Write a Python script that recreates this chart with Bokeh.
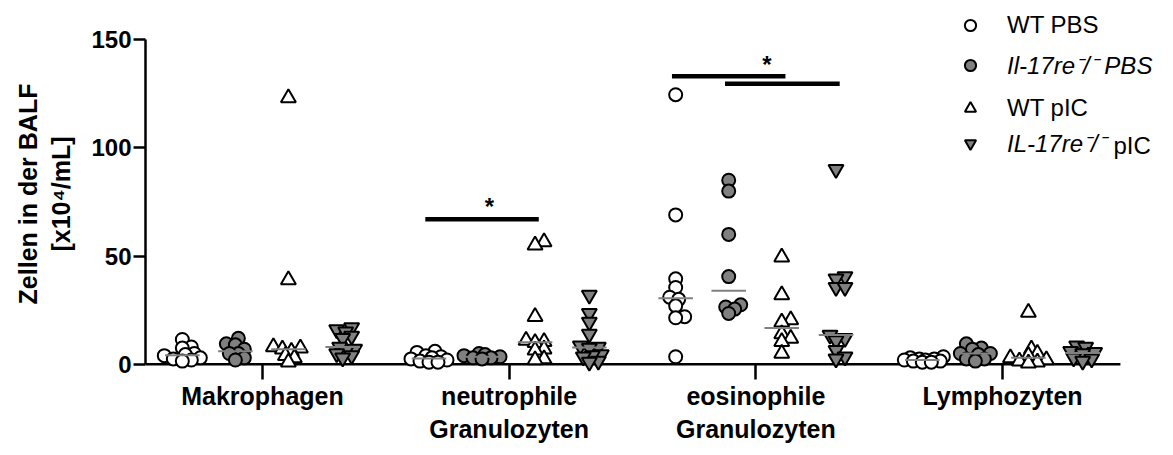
import numpy as np
from bokeh.plotting import figure
from bokeh.models import Range1d, FixedTicker, Legend, LegendItem, Label
from bokeh.core.properties import value
from bokeh.embed import file_html
from bokeh.resources import INLINE

# ---------------- data ----------------
groups = ["Makrophagen", "neutrophile\nGranulozyten", "eosinophile\nGranulozyten", "Lymphozyten"]
series_names = ["WT PBS", "Il-17re\u207b/\u207b PBS", "WT pIC", "IL-17re\u207b/\u207b"]

wt_pbs = [
    [11.5, 8, 7.5, 5, 4.5, 4, 3, 2.5, 2, 1.5],
    [6, 5.5, 4, 3.5, 3, 2.5, 2, 1.5, 1, 1],
    [124.5, 69, 39.5, 35.5, 31, 30, 27, 22, 21.5, 3.5],
    [3.5, 3, 2.5, 2.5, 2, 2, 1.5, 1.5, 1, 1],
]
il_pbs = [
    [12, 9.5, 9, 7, 5, 5, 3, 2],
    [5, 4.5, 4, 3.5, 3, 3, 2.5],
    [85, 80, 60, 40.5, 27.5, 26.5, 25.5, 23.5],
    [9.5, 7.5, 7, 5, 5, 4.5, 2.5, 2.5, 1.5],
]
wt_pic = [
    [123, 39, 8, 7.5, 7, 6, 4, 3, 1],
    [56.5, 55, 22, 11, 10.5, 10, 7, 6.5, 2.5, 2],
    [49.5, 32, 20.5, 19.5, 14, 12, 10.5, 5],
    [24, 7, 5, 4, 3, 2, 1.5, 1, 0.5],
]
il_pic = [
    [17, 16, 15, 13, 12, 8, 7, 6, 5, 4, 3],
    [32, 23.5, 19.5, 14, 8.5, 8, 7.5, 4.5, 4, 3.5, 1.5, 1],
    [90, 40.5, 39.5, 35.5, 35.5, 13.5, 12, 11, 6.5, 3.5, 2.5],
    [8.5, 8, 6, 5.5, 5, 3, 2.5, 1.5],
]
all_series = [wt_pbs, il_pbs, wt_pic, il_pic]

# significance bars: group, from-series, to-series, height
sig_group = [1, 2, 2]
sig_from = [0, 0, 1]
sig_to = [2, 2, 3]
sig_y = [67, 133, 129.5]
# stars
star_group = [1, 2]
star_dx = [-0.08, 0.045]
star_y = [73, 138.5]

y_ticks = [0, 50, 100, 150]

# ---------------- layout / style ----------------
FONT = "Liberation Sans"
X0 = -0.4743
FW, FH = 1025, 371
PX_X = 246.67
X1 = X0 + FW / PX_X
X_AXIS_END = 3.478
Y0, Y1 = -7.0, 164.3
PX_Y = FH / (Y1 - Y0)
series_offset = [-0.325, -0.11, 0.105, 0.325]
markers = ["circle", "circle", "triangle", "inverted_triangle"]
fills = ["white", "#808080", "white", "#808080"]
sizes = [13, 13, 15, 15]


def swarm(vals, dmin=7.0, step=3.0, max_off=21.0):
    vals = list(vals)
    order = np.argsort(vals, kind="stable")
    placed = []
    offs = [0.0] * len(vals)
    for i in order:
        yp = vals[i] * PX_Y
        cands = [0.0]
        k = 1
        while k * step <= max_off:
            cands += [k * step, -k * step]
            k += 1
        best, best_d = None, -1
        chosen = None
        for c in cands:
            d = min([((c - a) ** 2 + (yp - b) ** 2) ** 0.5 for a, b in placed] or [1e9])
            if d >= dmin:
                chosen = c
                break
            if d > best_d:
                best, best_d = c, d
        if chosen is None:
            chosen = best
        offs[i] = chosen
        placed.append((chosen, yp))
    return [o / PX_X for o in offs]


p = figure(frame_width=FW, frame_height=FH, x_range=Range1d(X0, X1), y_range=Range1d(Y0, Y1),
           output_backend="svg", toolbar_location=None,
           min_border_left=145, min_border_right=3, min_border_top=8, min_border_bottom=76)
p.outline_line_color = None
p.xgrid.visible = False
p.ygrid.visible = False
p.background_fill_color = "white"
p.border_fill_color = "white"

# x axis baseline at y = 0
p.segment(x0=[X0], y0=[0], x1=[X_AXIS_END], y1=[0], line_color="black", line_width=2.5, level="underlay")

renderers = []
for s, data in enumerate(all_series):
    xs, ys = [], []
    mx0, mx1, my = [], [], []
    for g, vals in enumerate(data):
        offs = swarm(vals)
        cx = g + series_offset[s]
        xs += [cx + o for o in offs]
        ys += list(vals)
        med = float(np.median(vals))
        mx0.append(cx - 0.07)
        mx1.append(cx + 0.07)
        my.append(med)
    r = p.scatter(xs, ys, marker=markers[s], size=sizes[s], fill_color=fills[s],
                  line_color="black", line_width=2)
    renderers.append(r)
    p.segment(x0=mx0, y0=my, x1=mx1, y1=my, line_color="#808080", line_width=2)

# significance bars
bx0 = [g + series_offset[a] - 0.015 for g, a in zip(sig_group, sig_from)]
bx1 = [g + series_offset[b] + 0.015 for g, b in zip(sig_group, sig_to)]
p.segment(x0=bx0, y0=sig_y, x1=bx1, y1=sig_y, line_color="black", line_width=4.5)
p.text(x=[g + d for g, d in zip(star_group, star_dx)], y=star_y, text=["*"] * len(star_y),
       text_font=value(FONT), text_font_size="24px", text_font_style="bold",
       text_align="center", text_baseline="middle", text_color="black")

# axes
p.yaxis.ticker = FixedTicker(ticks=y_ticks)
p.yaxis.bounds = (0, 150)
p.yaxis.minor_tick_line_color = None
p.yaxis.major_tick_in = 0
p.yaxis.major_tick_out = 12
p.yaxis.axis_line_width = 2.5
p.yaxis.major_tick_line_width = 2.5
p.yaxis.major_label_standoff = 2
p.yaxis.major_label_text_font = FONT
p.yaxis.major_label_text_font_size = "24px"
p.yaxis.major_label_text_font_style = "bold"
p.yaxis.major_label_text_color = "black"
p.yaxis.axis_label = "Zellen in der BALF\n[x10\u2074/mL]"
p.yaxis.axis_label_text_font = FONT
p.yaxis.axis_label_text_font_size = "25px"
p.yaxis.axis_label_text_font_style = "bold"
p.yaxis.axis_label_text_color = "black"
p.yaxis.axis_label_standoff = 13

p.xaxis.ticker = FixedTicker(ticks=list(range(len(groups))))
p.xaxis.major_label_overrides = {i: g for i, g in enumerate(groups)}
p.xaxis.axis_line_color = None
p.xaxis.minor_tick_line_color = None
p.xaxis.major_tick_in = 15
p.xaxis.major_tick_out = 0
p.xaxis.major_tick_line_width = 2.5
p.xaxis.major_label_standoff = 2
p.xaxis.major_label_text_font = FONT
p.xaxis.major_label_text_font_size = "25px"
p.xaxis.major_label_text_font_style = "bold"
p.xaxis.major_label_text_color = "black"

# legend (one per entry for mixed styles)
leg_y = [340, 298, 257, 220]
leg_style = ["normal", "italic", "normal", "italic"]
for i in range(4):
    lg = Legend(items=[LegendItem(label=series_names[i], renderers=[renderers[i]])],
                location=(811, leg_y[i]), orientation="vertical",
                glyph_width=28, glyph_height=28, label_standoff=23,
                label_text_font=FONT, label_text_font_size="24px",
                label_text_font_style=leg_style[i], label_text_color="black",
                border_line_color=None, background_fill_alpha=0,
                padding=0, margin=0, spacing=0)
    p.add_layout(lg, "center")

p.add_layout(Label(x=968, y=234, x_units="screen", y_units="screen", text="pIC",
                   text_font=FONT, text_font_size="24px", text_baseline="middle",
                   text_color="black"))

open("out.html", "w").write(file_html(p, INLINE))
